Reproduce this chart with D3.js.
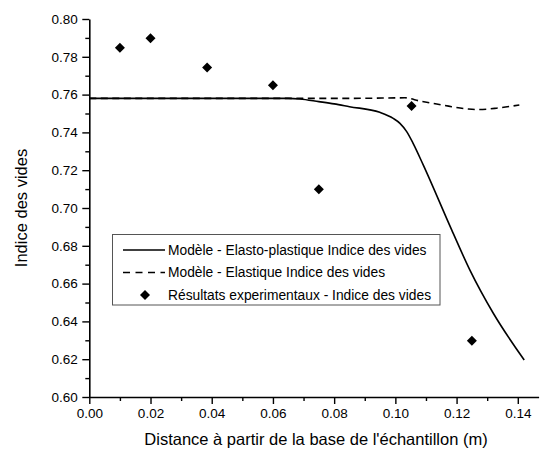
<!DOCTYPE html>
<html><head><meta charset="utf-8">
<script src="https://cdn.jsdelivr.net/npm/d3@7"></script>
<style>body{margin:0;background:#fff}svg{display:block}</style>
</head><body>
<script>
// ---- data ----
const xTicks = [0.00, 0.02, 0.04, 0.06, 0.08, 0.10, 0.12, 0.14];
const yTicks = [0.60, 0.62, 0.64, 0.66, 0.68, 0.70, 0.72, 0.74, 0.76, 0.78, 0.80];
const plasticX = [0.000, 0.065, 0.0688, 0.075, 0.080, 0.085, 0.0949, 0.0993, 0.1015, 0.1037, 0.1058, 0.1091, 0.1184, 0.1244, 0.132, 0.1421];
const plasticY = [0.758, 0.758, 0.7577, 0.7563, 0.7551, 0.7536, 0.7506, 0.7474, 0.7448, 0.7404, 0.7342, 0.7228, 0.6884, 0.6670, 0.6443, 0.6196];
const elasticX = [0.000, 0.085, 0.0973, 0.1031, 0.108, 0.1135, 0.1184, 0.1238, 0.127, 0.133, 0.1405];
const elasticY = [0.758, 0.758, 0.7582, 0.7583, 0.7566, 0.7550, 0.7536, 0.7524, 0.7521, 0.7528, 0.7545];
const expX = [0.010, 0.020, 0.0385, 0.060, 0.075, 0.1053, 0.125];
const expY = [0.7848, 0.7898, 0.7744, 0.7650, 0.7099, 0.7540, 0.6298];
const legendLabels = ["Modèle - Elasto-plastique Indice des vides", "Modèle - Elastique Indice des vides", "Résultats experimentaux - Indice des vides"];
const xTitle = "Distance à partir de la base de l'échantillon (m)";
const yTitle = "Indice des vides";

const W = 542, H = 458;
const FONT = "'Liberation Sans', Arial, sans-serif";
const svg = d3.select("body").append("svg").attr("width", W).attr("height", H)
  .style("font-family", FONT);

const x = d3.scaleLinear().domain([0, 0.1468]).range([89.3, 538.6]);
const y = d3.scaleLinear().domain([0.60, 0.80]).range([397, 19]);

// axes
const xMinor = d3.range(0.01, 0.146, 0.02);
const yMinor = d3.range(0.61, 0.80, 0.02);

const gx = svg.append("g").attr("transform", `translate(0,${y(0.60)})`);
gx.call(d3.axisBottom(x).tickValues(xTicks).tickFormat(d3.format(".2f")).tickSize(7).tickPadding(4.5).tickSizeOuter(0));
gx.append("g").call(d3.axisBottom(x).tickValues(xMinor).tickFormat("").tickSize(4).tickSizeOuter(0))
  .select(".domain").remove();

const gy = svg.append("g").attr("transform", `translate(${x(0)},0)`);
gy.call(d3.axisLeft(y).tickValues(yTicks).tickFormat(d3.format(".2f")).tickSize(7).tickPadding(4.5).tickSizeOuter(0));
gy.append("g").call(d3.axisLeft(y).tickValues(yMinor).tickFormat("").tickSize(4).tickSizeOuter(0))
  .select(".domain").remove();

svg.selectAll(".domain").attr("stroke", "#000").attr("stroke-width", 1.6);
svg.selectAll(".tick line").attr("stroke", "#000").attr("stroke-width", 1.4);
svg.selectAll(".tick text").attr("fill", "#000").style("font-size", "13.5px").style("font-family", FONT);

// titles
svg.append("text").attr("x", 316).attr("y", 445).attr("text-anchor", "middle")
  .style("font-size", "16.5px").attr("fill", "#000").text(xTitle);
svg.append("text").attr("transform", `translate(27,${(y(0.6)+y(0.8))/2}) rotate(-90)`)
  .attr("text-anchor", "middle").style("font-size", "16.5px").attr("fill", "#000").text(yTitle);

// curves
const line = d3.line().x(d => x(d[0])).y(d => y(d[1])).curve(d3.curveMonotoneX);
svg.append("path").datum(plasticX.map((v, i) => [v, plasticY[i]]))
  .attr("d", line).attr("fill", "none").attr("stroke", "#000").attr("stroke-width", 1.6);
svg.append("path").datum(elasticX.map((v, i) => [v, elasticY[i]]))
  .attr("d", line).attr("fill", "none").attr("stroke", "#000").attr("stroke-width", 1.6)
  .attr("stroke-dasharray", "7,4.5");

const diamond = d3.symbol().type(d3.symbolDiamond2 || d3.symbolDiamond).size(75);
function diamondPath(cx, cy, r) {
  return `M${cx},${cy-r}L${cx+r},${cy}L${cx},${cy+r}L${cx-r},${cy}Z`;
}
svg.append("g").selectAll("path").data(expX.map((v, i) => [v, expY[i]])).join("path")
  .attr("d", d => diamondPath(x(d[0]), y(d[1]), 5)).attr("fill", "#000");

// legend
const lg = svg.append("g");
lg.append("rect").attr("x", 112.5).attr("y", 234.5).attr("width", 327.5).attr("height", 70.5)
  .attr("fill", "#fff").attr("stroke", "#555").attr("stroke-width", 1);
const rows = [250, 272.5, 295];
lg.append("line").attr("x1", 123).attr("x2", 165).attr("y1", rows[0]).attr("y2", rows[0])
  .attr("stroke", "#000").attr("stroke-width", 1.6);
lg.append("line").attr("x1", 123).attr("x2", 165).attr("y1", rows[1]).attr("y2", rows[1])
  .attr("stroke", "#000").attr("stroke-width", 1.6).attr("stroke-dasharray", "7,5.5");
lg.append("path").attr("d", diamondPath(145, rows[2], 5)).attr("fill", "#000");
lg.selectAll("text.l").data(legendLabels).join("text").attr("class", "l")
  .attr("x", 168).attr("y", (d, i) => rows[i]).attr("dy", "0.35em")
  .style("font-size", "13.8px").attr("fill", "#000").text(d => d);
</script>
</body></html>
